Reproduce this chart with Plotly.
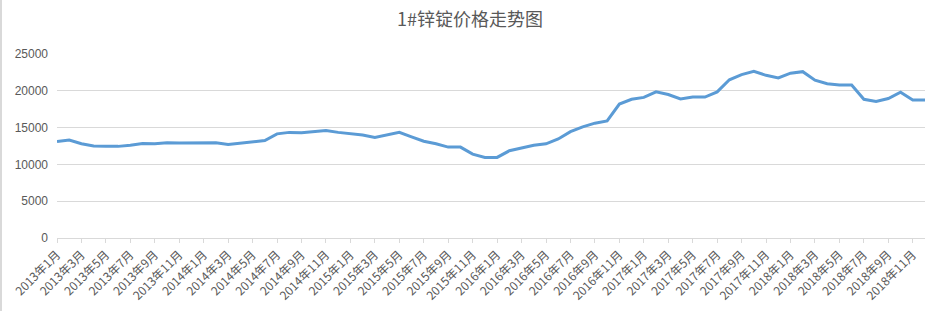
import plotly.graph_objects as go

years = [2013, 2014, 2015, 2016, 2017, 2018]
months = list(range(1, 13))
categories = [f"{y}年{m}月" for y in years for m in months]

prices = [
    13100, 13300, 12800, 12500, 12450, 12450, 12600, 12850, 12800, 12950, 12900, 12900,
    12950, 12950, 12700, 12850, 13050, 13250, 14150, 14350, 14300, 14450, 14600, 14350,
    14150, 14000, 13650, 14000, 14350, 13750, 13150, 12800, 12350, 12350, 11400, 10950,
    10950, 11850, 12200, 12600, 12800, 13450, 14450, 15100, 15600, 15900, 18200, 18850,
    19100, 19850, 19500, 18900, 19150, 19150, 19850, 21500, 22200, 22650, 22100, 21750,
    22400, 22600, 21450, 20950, 20800, 20800, 18850, 18550, 18950, 19800, 18750, 18750,
]

y_ticks = [0, 5000, 10000, 15000, 20000, 25000]
y_tick_labels = [str(v) for v in y_ticks]
title_text = "1#锌锭价格走势图"

W, H = 933, 311
L, R, T, B = 57, 8, 54, 73
pw, ph = W - L - R, H - T - B

fig = go.Figure()
fig.add_trace(go.Scatter(
    x=list(range(len(categories))), y=prices, mode="lines",
    line=dict(color="#5b9bd5", width=3), hoverinfo="skip",
))

font_family = "Noto Sans CJK SC, Liberation Sans, sans-serif"
fig.update_layout(
    width=W, height=H,
    margin=dict(l=L, r=R, t=T, b=B),
    paper_bgcolor="white", plot_bgcolor="white",
    showlegend=False,
    title=dict(text=title_text, x=470 / W, xanchor="center", y=1 - 20 / H, yanchor="middle",
               font=dict(family="Noto Sans CJK SC, sans-serif", size=18, color="#595959")),
    xaxis=dict(
        range=[0, len(categories) - 1],
        tickmode="array",
        tickvals=list(range(0, len(categories), 2)),
        ticktext=categories[::2],
        tickangle=-45,
        ticks="outside", ticklen=4, tickcolor="#d9d9d9", tickwidth=1,
        showline=True, linecolor="#d9d9d9", linewidth=1,
        showgrid=False, zeroline=False,
        tickfont=dict(family=font_family, size=12, color="#595959"),
    ),
    yaxis=dict(
        range=[0, 25000],
        tickmode="array",
        tickvals=y_ticks,
        ticktext=y_tick_labels,
        showgrid=True, gridcolor="#d9d9d9", gridwidth=1,
        zeroline=False, showline=False, ticks="",
        ticklabelstandoff=8,
        tickfont=dict(family="Liberation Sans, sans-serif", size=12, color="#595959"),
    ),
    shapes=[dict(
        type="line", xref="paper", yref="paper",
        x0=(1 - L) / pw, x1=(1 - L) / pw,
        y0=(H - T) / ph + 0.01, y1=-(B) / ph - 0.01,
        line=dict(color="#d9d9d9", width=2),
    )],
)

fig.write_html("out.html")
